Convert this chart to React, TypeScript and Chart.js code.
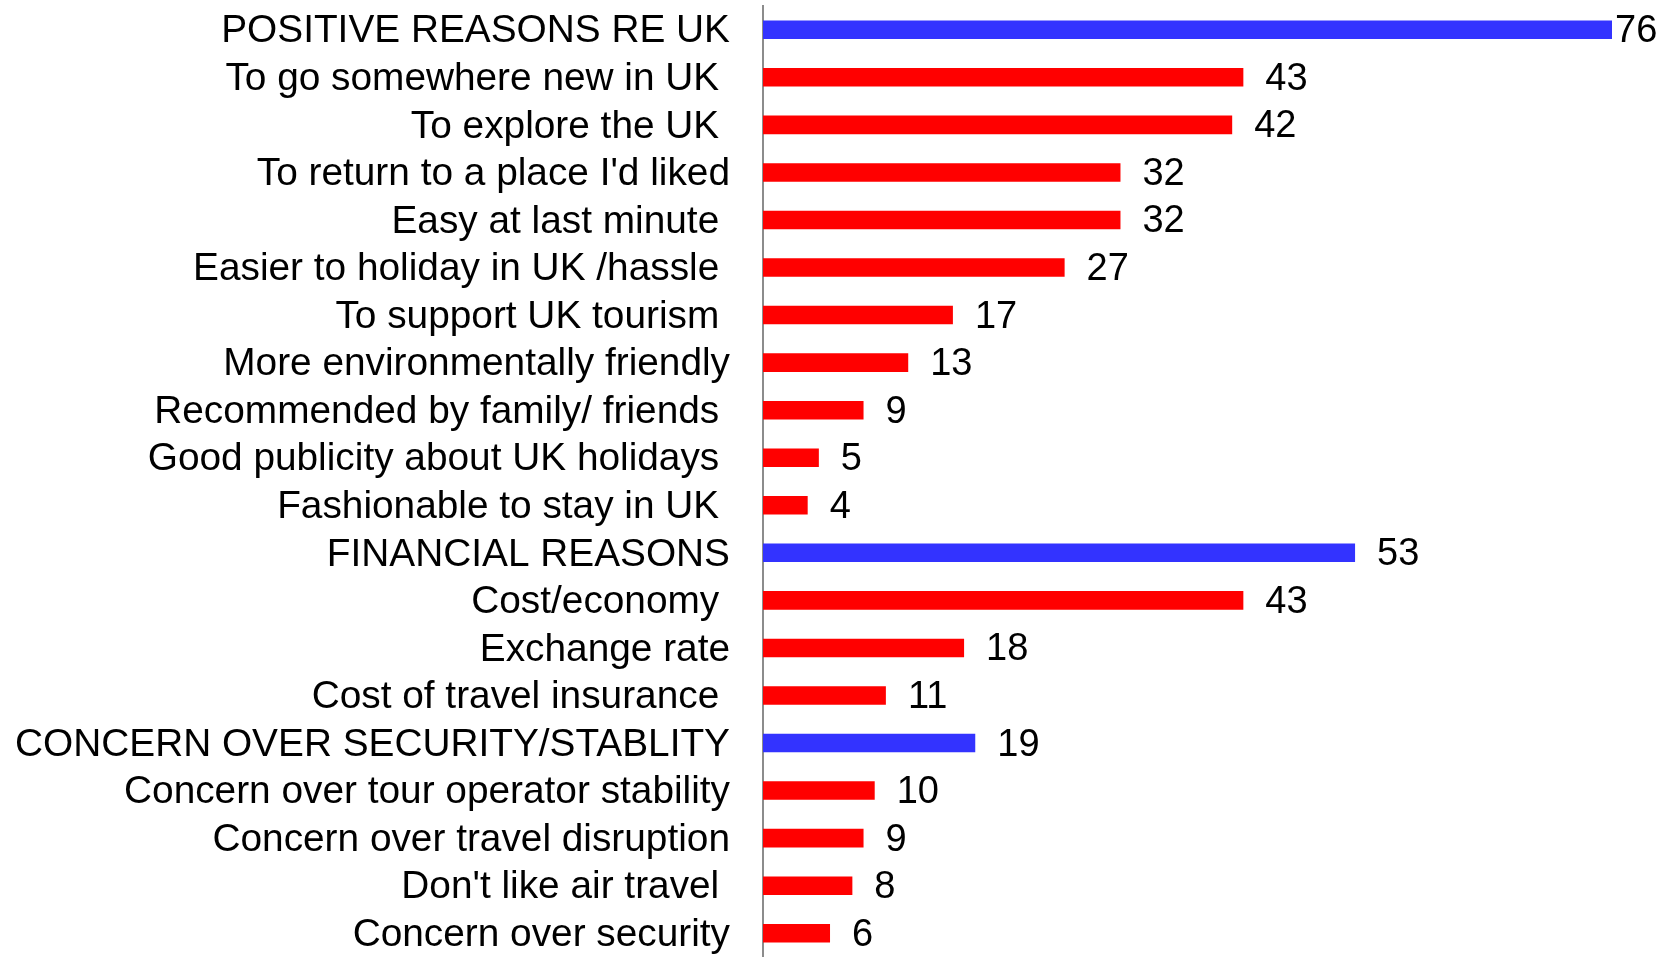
import React, { useEffect, useRef } from "react";
import { Chart, registerables } from "chart.js";

Chart.register(...registerables);

const categories: string[] = [
  "POSITIVE REASONS RE UK",
  "To go somewhere new in UK ",
  "To explore the UK ",
  "To return to a place I'd liked",
  "Easy at last minute ",
  "Easier to holiday in UK /hassle ",
  "To support UK tourism ",
  "More environmentally friendly",
  "Recommended by family/ friends ",
  "Good publicity about UK holidays ",
  "Fashionable to stay in UK ",
  "FINANCIAL REASONS",
  "Cost/economy ",
  "Exchange rate",
  "Cost of travel insurance ",
  "CONCERN OVER SECURITY/STABLITY",
  "Concern over tour operator stability",
  "Concern over travel disruption",
  "Don't like air travel ",
  "Concern over security",
];

const values: number[] = [76, 43, 42, 32, 32, 27, 17, 13, 9, 5, 4, 53, 43, 18, 11, 19, 10, 9, 8, 6];

const isHeader: boolean[] = [
  true, false, false, false, false, false, false, false, false, false, false,
  true, false, false, false,
  true, false, false, false, false,
];

const HEADER_COLOR = "#3333FF";
const ITEM_COLOR = "#FF0000";
const FONT = "'Liberation Sans', Arial, sans-serif";

const valueLabels = {
  id: "valueLabels",
  afterDatasetsDraw(chart: any) {
    const ctx = chart.ctx;
    const area = chart.chartArea;
    const meta = chart.getDatasetMeta(0);
    ctx.save();
    ctx.fillStyle = "#000";
    ctx.font = `38px ${FONT}`;
    ctx.textAlign = "left";
    ctx.textBaseline = "middle";
    meta.data.forEach((bar: any, i: number) => {
      const atEdge = bar.x >= area.right - 1;
      const x = atEdge ? area.right + 3 : bar.x + 22;
      ctx.fillText(String(values[i]), x, bar.y + 2);
    });
    ctx.restore();
  },
};

export default function App() {
  const canvasRef = useRef<HTMLCanvasElement | null>(null);

  useEffect(() => {
    document.body.style.margin = "0";
    const canvas = canvasRef.current;
    if (!canvas) return;
    const chart = new Chart(canvas, {
      type: "bar",
      data: {
        labels: categories,
        datasets: [
          {
            data: values,
            backgroundColor: isHeader.map((h) => (h ? HEADER_COLOR : ITEM_COLOR)),
            borderWidth: 0,
            barPercentage: 0.39,
            categoryPercentage: 1,
          },
        ],
      },
      plugins: [valueLabels],
      options: {
        indexAxis: "y",
        animation: false,
        responsive: true,
        maintainAspectRatio: false,
        layout: { padding: { top: 6, right: 53, bottom: 0, left: 0 } },
        plugins: {
          legend: { display: false },
          tooltip: { enabled: false },
          title: { display: false },
        },
        scales: {
          x: {
            display: false,
            min: 0,
            max: 76,
          },
          y: {
            grid: { display: false, drawTicks: false },
            border: { display: true, color: "#8c8c8c", width: 2 },
            ticks: {
              autoSkip: false,
              padding: 33,
              labelOffset: 2,
              color: "#000",
              font: { family: FONT, size: 38.8 },
            },
            afterFit: (scale: any) => {
              scale.width = 763;
              scale.paddingTop = 0;
              scale.paddingBottom = 0;
            },
          },
        },
      },
    });
    return () => chart.destroy();
  }, []);

  return (
    <div style={{ width: 1665, height: 957, position: "relative", background: "#fff" }}>
      <canvas ref={canvasRef} />
    </div>
  );
}
